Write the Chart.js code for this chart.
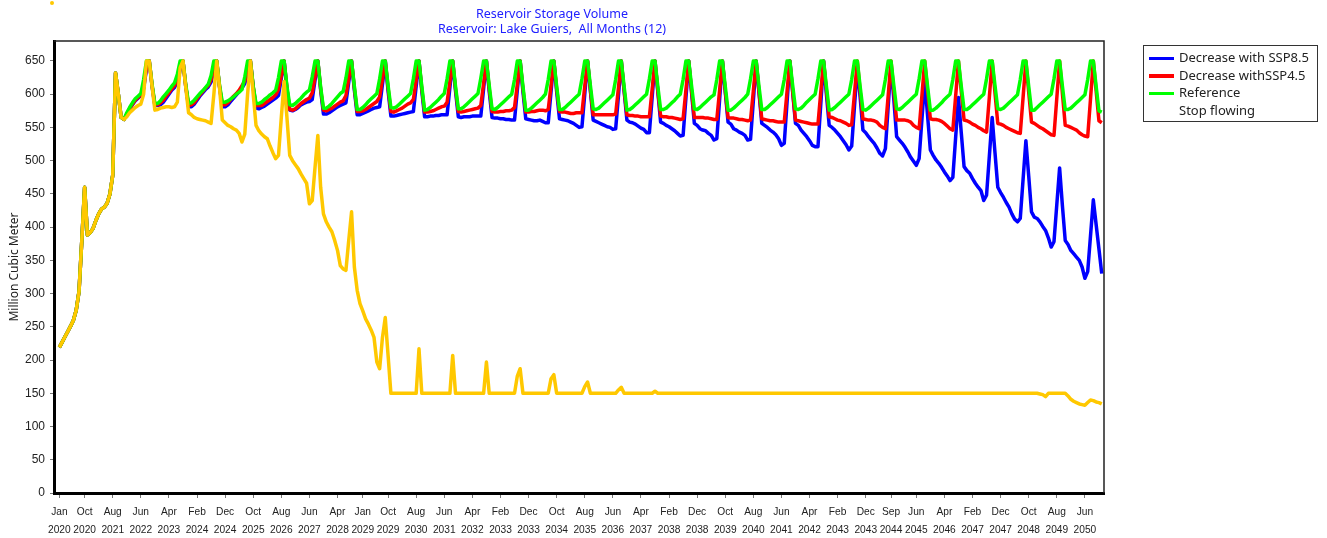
<!DOCTYPE html>
<html>
<head>
<meta charset="utf-8">
<script src="https://cdn.jsdelivr.net/npm/chart.js@4.4.1/dist/chart.umd.min.js"></script>
<style>
  body { margin: 0; background: #fff; }
  #wrap { position: relative; width: 1327px; height: 538px; }
  #legend { position: absolute; left: 1143px; top: 45px; width: 175px; height: 77px; border: 1px solid #333;
    box-sizing: border-box; padding-top: 3px; font: 13px 'Noto Sans', sans-serif; color: #222; }
  #legend div { height: 17.6px; line-height: 17.6px; white-space: nowrap; }
  #legend span { display: inline-block; width: 25px; height: 3.5px; margin: 0 5px 0 5px; vertical-align: middle; }
  #dot { position: absolute; left: 50px; top: 1px; width: 4px; height: 4px; border-radius: 2px; background: #ffc800; }
</style>
</head>
<body>
<div id="wrap">
  <canvas id="myChart" width="1327" height="538"></canvas>
  <div id="legend"></div>
  <div id="dot"></div>
</div>
<script>
// monthly values, Jan 2020 .. Dec 2050 (one row per year)
const ssp85 = [
  219, 227, 235, 243, 251, 260, 275, 303, 380, 460, 388, 392,
  398, 410, 420, 427, 430, 436, 450, 478, 632, 600, 565, 562,
  569, 577, 584, 590, 594, 598, 608, 638, 650, 612, 583, 583,
  584, 588, 594, 600, 606, 610, 618, 636, 650, 611, 581, 581,
  585, 591, 597, 602, 607, 611, 618, 636, 650, 611, 581, 581,
  584, 589, 594, 599, 604, 609, 616, 632, 650, 610, 579, 578,
  580, 582, 585, 588, 591, 594, 598, 624, 650, 608, 576, 575,
  577, 580, 584, 586, 588, 589, 592, 621, 650, 606, 570, 570,
  572, 575, 578, 581, 583, 585, 587, 618, 650, 606, 569, 569,
  571, 573, 575, 577, 579, 580, 581, 615, 650, 605, 567, 567,
  568, 569, 570, 571, 572, 573, 574, 612, 650, 605, 566, 566,
  567, 567, 568, 568, 569, 569, 569, 610, 650, 605, 566, 565,
  566, 566, 566, 567, 567, 567, 567, 608, 650, 604, 565, 564,
  564, 563, 563, 562, 562, 561, 561, 606, 650, 604, 563, 562,
  561, 560, 560, 561, 559, 557, 557, 604, 650, 604, 563, 562,
  561, 560, 558, 556, 553, 550, 551, 600, 650, 605, 561, 559,
  557, 555, 553, 551, 550, 547, 548, 598, 650, 605, 561, 558,
  557, 555, 552, 549, 547, 542, 542, 596, 650, 604, 558, 556,
  553, 551, 548, 545, 541, 537, 538, 594, 650, 603, 556, 553,
  548, 546, 545, 541, 538, 531, 533, 592, 650, 604, 558, 555,
  548, 546, 543, 541, 538, 531, 532, 590, 650, 603, 556, 553,
  550, 546, 543, 539, 533, 523, 526, 588, 650, 603, 556, 553,
  546, 541, 536, 530, 523, 521, 521, 585, 650, 600, 553, 550,
  546, 541, 536, 530, 524, 516, 522, 582, 641, 596, 546, 542,
  536, 531, 526, 519, 511, 507, 518, 582, 645, 592, 536, 531,
  526, 520, 513, 505, 499, 493, 503, 562, 621, 568, 516, 508,
  501, 496, 490, 483, 477, 470, 475, 535, 595, 542, 491, 485,
  481, 473, 466, 460, 455, 440, 448, 507, 565, 512, 460, 452,
  445, 437, 430, 420, 412, 408, 413, 472, 530, 477, 423, 415,
  413, 408, 401, 395, 384, 370, 378, 434, 489, 432, 380, 374,
  365, 360, 355, 350, 340, 323, 333, 387, 441, 404, 367, 330
];

const ssp45 = [
  219, 227, 235, 243, 251, 260, 275, 303, 380, 460, 388, 392,
  398, 410, 420, 427, 430, 436, 450, 478, 632, 600, 565, 562,
  570, 578, 585, 591, 595, 599, 610, 640, 650, 613, 584, 584,
  587, 591, 597, 602, 608, 613, 622, 640, 650, 612, 583, 584,
  587, 593, 599, 604, 609, 613, 622, 640, 650, 612, 584, 584,
  587, 592, 597, 601, 606, 613, 620, 638, 650, 611, 583, 583,
  583, 586, 589, 592, 595, 599, 607, 628, 650, 609, 577, 576,
  578, 582, 586, 589, 592, 594, 602, 626, 650, 608, 576, 575,
  577, 579, 582, 585, 588, 590, 598, 624, 650, 609, 574, 574,
  575, 577, 580, 583, 586, 589, 596, 623, 650, 609, 574, 573,
  575, 577, 579, 582, 585, 587, 592, 621, 650, 608, 573, 573,
  574, 575, 577, 579, 581, 582, 588, 619, 650, 608, 574, 573,
  574, 575, 576, 577, 578, 579, 583, 616, 650, 608, 574, 573,
  573, 574, 574, 575, 575, 576, 580, 615, 650, 608, 573, 573,
  574, 574, 575, 576, 576, 575, 577, 613, 650, 608, 574, 573,
  573, 572, 571, 571, 572, 572, 572, 612, 650, 606, 569, 569,
  569, 569, 569, 569, 569, 569, 570, 610, 650, 606, 569, 568,
  568, 567, 567, 566, 566, 566, 566, 608, 650, 605, 567, 566,
  566, 565, 565, 564, 563, 562, 563, 606, 650, 605, 565, 565,
  565, 565, 564, 564, 563, 562, 562, 606, 650, 605, 565, 564,
  564, 563, 562, 562, 561, 560, 561, 605, 650, 604, 563, 562,
  561, 560, 560, 559, 558, 558, 558, 604, 650, 604, 561, 560,
  559, 558, 557, 556, 555, 555, 555, 603, 650, 606, 566, 565,
  563, 561, 560, 558, 556, 553, 554, 601, 650, 605, 563, 562,
  561, 561, 560, 558, 553, 550, 548, 598, 650, 604, 561, 561,
  561, 561, 560, 558, 553, 550, 548, 598, 650, 605, 563, 562,
  562, 561, 559, 556, 552, 548, 546, 597, 650, 604, 561, 560,
  558, 555, 553, 550, 548, 545, 543, 596, 650, 602, 556, 555,
  553, 550, 548, 546, 544, 542, 541, 595, 650, 603, 558, 556,
  553, 550, 548, 545, 542, 539, 538, 594, 650, 601, 553, 552,
  550, 548, 546, 542, 539, 537, 536, 593, 650, 605, 560, 557
];

const reference = [
  219, 227, 235, 243, 251, 260, 275, 303, 380, 460, 388, 392,
  398, 410, 420, 427, 430, 436, 450, 478, 632, 600, 565, 562,
  572, 580, 587, 593, 597, 601, 622, 650, 650, 615, 586, 586,
  590, 596, 601, 606, 612, 617, 630, 650, 650, 614, 586, 587,
  591, 596, 601, 605, 610, 615, 628, 650, 650, 614, 588, 588,
  590, 593, 596, 600, 603, 607, 626, 650, 650, 612, 586, 586,
  588, 592, 595, 599, 602, 606, 625, 650, 650, 612, 584, 583,
  586, 590, 594, 599, 603, 606, 626, 650, 650, 611, 579, 579,
  582, 586, 591, 596, 601, 604, 624, 650, 650, 612, 577, 577,
  580, 584, 589, 593, 597, 601, 623, 650, 650, 613, 580, 579,
  581, 585, 589, 593, 597, 601, 623, 650, 650, 612, 576, 577,
  580, 584, 588, 592, 597, 601, 623, 650, 650, 612, 578, 578,
  581, 585, 589, 593, 597, 601, 624, 650, 650, 613, 578, 577,
  580, 584, 588, 592, 596, 600, 622, 650, 650, 612, 576, 576,
  579, 583, 587, 591, 595, 600, 622, 650, 650, 612, 577, 577,
  580, 584, 588, 592, 596, 600, 623, 650, 650, 613, 578, 577,
  579, 583, 587, 591, 595, 599, 622, 650, 650, 612, 576, 577,
  580, 584, 588, 592, 596, 600, 623, 650, 650, 612, 577, 577,
  579, 583, 587, 591, 596, 600, 622, 650, 650, 613, 578, 577,
  580, 584, 588, 592, 596, 599, 622, 650, 650, 612, 576, 576,
  579, 583, 587, 591, 595, 600, 623, 650, 650, 612, 577, 577,
  580, 584, 588, 592, 596, 600, 622, 650, 650, 613, 578, 577,
  579, 583, 588, 592, 596, 600, 623, 650, 650, 612, 576, 577,
  580, 584, 588, 592, 596, 600, 622, 650, 650, 612, 577, 576,
  579, 583, 587, 591, 595, 599, 622, 650, 650, 613, 578, 577,
  580, 584, 588, 592, 596, 600, 623, 650, 650, 612, 576, 576,
  579, 583, 587, 592, 596, 600, 622, 650, 650, 612, 577, 577,
  580, 584, 588, 592, 596, 600, 623, 650, 650, 613, 578, 577,
  579, 583, 587, 591, 595, 599, 622, 650, 650, 612, 576, 576,
  580, 584, 588, 592, 596, 600, 623, 650, 650, 612, 577, 577,
  579, 583, 587, 591, 595, 599, 622, 650, 650, 612, 575, 573
];

const stopFlowing = [
  219, 227, 235, 243, 251, 260, 275, 303, 380, 460, 388, 392,
  398, 410, 420, 427, 430, 436, 450, 478, 632, 600, 565, 562,
  566, 572, 576, 580, 583, 585, 600, 650, 650, 612, 576, 577,
  579, 580, 581, 581, 580, 581, 588, 640, 650, 610, 572, 569,
  565, 563, 562, 561, 560, 558, 556, 600, 650, 610, 561, 557,
  553, 551, 548, 546, 541, 528, 540, 600, 650, 600, 553, 545,
  540, 536, 533, 522, 512, 503, 508, 565, 619, 565, 508, 500,
  494, 488, 480, 473, 466, 435, 440, 490, 538, 460, 420, 408,
  400, 393, 380, 365, 342, 337, 335, 380, 423, 340, 305, 285,
  274, 262, 254, 245, 234, 197, 187, 234, 264, 207, 150, 150,
  150, 150, 150, 150, 150, 150, 150, 150, 217, 150, 150, 150,
  150, 150, 150, 150, 150, 150, 150, 150, 207, 150, 150, 150,
  150, 150, 150, 150, 150, 150, 150, 150, 197, 150, 150, 150,
  150, 150, 150, 150, 150, 150, 150, 176, 187, 150, 150, 150,
  150, 150, 150, 150, 150, 150, 150, 172, 178, 150, 150, 150,
  150, 150, 150, 150, 150, 150, 150, 160, 167, 150, 150, 150,
  150, 150, 150, 150, 150, 150, 150, 155, 159, 150, 150, 150,
  150, 150, 150, 150, 150, 150, 150, 150, 153, 150, 150, 150,
  150, 150, 150, 150, 150, 150, 150, 150, 150, 150, 150, 150,
  150, 150, 150, 150, 150, 150, 150, 150, 150, 150, 150, 150,
  150, 150, 150, 150, 150, 150, 150, 150, 150, 150, 150, 150,
  150, 150, 150, 150, 150, 150, 150, 150, 150, 150, 150, 150,
  150, 150, 150, 150, 150, 150, 150, 150, 150, 150, 150, 150,
  150, 150, 150, 150, 150, 150, 150, 150, 150, 150, 150, 150,
  150, 150, 150, 150, 150, 150, 150, 150, 150, 150, 150, 150,
  150, 150, 150, 150, 150, 150, 150, 150, 150, 150, 150, 150,
  150, 150, 150, 150, 150, 150, 150, 150, 150, 150, 150, 150,
  150, 150, 150, 150, 150, 150, 150, 150, 150, 150, 150, 150,
  150, 150, 150, 150, 150, 150, 150, 150, 150, 150, 150, 150,
  150, 149, 148, 145, 150, 150, 150, 150, 150, 150, 150, 146,
  141, 138, 136, 134, 133, 132, 136, 140, 139, 137, 136, 134
];

const seriesNames = ['Decrease with SSP8.5', 'Decrease withSSP4.5', 'Reference', 'Stop flowing'];
const seriesColors = ['#0000ff', '#ff0000', '#00ff00', '#ffc800'];

const monthNames = ['Jan', 'Feb', 'Mar', 'Apr', 'May', 'Jun', 'Jul', 'Aug', 'Sep', 'Oct', 'Nov', 'Dec'];
const months = [];
for (let y = 2020; y <= 2050; y++) {
  monthNames.forEach(m => months.push(m + ' ' + y));
}

const tickLabels = ['Jan 2020', 'Oct 2020', 'Aug 2021', 'Jun 2022', 'Apr 2023', 'Feb 2024', 'Dec 2024',
  'Oct 2025', 'Aug 2026', 'Jun 2027', 'Apr 2028', 'Jan 2029', 'Oct 2029', 'Aug 2030', 'Jun 2031',
  'Apr 2032', 'Feb 2033', 'Dec 2033', 'Oct 2034', 'Aug 2035', 'Jun 2036', 'Apr 2037', 'Feb 2038',
  'Dec 2038', 'Oct 2039', 'Aug 2040', 'Jun 2041', 'Apr 2042', 'Feb 2043', 'Dec 2043', 'Sep 2044',
  'Jun 2045', 'Apr 2046', 'Feb 2047', 'Dec 2047', 'Oct 2048', 'Aug 2049', 'Jun 2050'];
const yTicks = [0, 50, 100, 150, 200, 250, 300, 350, 400, 450, 500, 550, 600, 650];

const allSeries = [ssp85, ssp45, reference, stopFlowing];

// narrow face for the crowded date labels if the machine has one
const probe = document.createElement('canvas').getContext('2d');
probe.font = "12px 'Liberation Sans Narrow', monospace";
const wNarrow = probe.measureText('2020 Jan').width;
probe.font = '12px monospace';
const hasNarrow = Math.abs(wNarrow - probe.measureText('2020 Jan').width) > 0.5;
const xTickFont = hasNarrow
  ? { family: "'Liberation Sans Narrow'", size: 12, lineHeight: 1.45 }
  : { family: "'Liberation Sans', Arial, sans-serif", size: 10.2, lineHeight: 1.7 };

// legend box on the right
const legendBox = document.getElementById('legend');
seriesNames.forEach((name, i) => {
  const row = document.createElement('div');
  const sw = document.createElement('span');
  sw.style.background = i < 3 ? seriesColors[i] : 'transparent';
  row.appendChild(sw);
  row.appendChild(document.createTextNode(name));
  legendBox.appendChild(row);
});

// thin frame on top and right of the plot
const frame = {
  id: 'frame',
  afterDraw(chart) {
    const a = chart.chartArea, c = chart.ctx;
    c.save();
    c.strokeStyle = '#222';
    c.lineWidth = 1.5;
    c.beginPath();
    c.moveTo(a.left, a.top);
    c.lineTo(a.right, a.top);
    c.lineTo(a.right, a.bottom);
    c.stroke();
    c.restore();
  }
};

const ctx = document.getElementById('myChart');
new Chart(ctx, {
  type: 'line',
  data: {
    datasets: allSeries.map((s, i) => ({
      label: seriesNames[i],
      data: s.map((v, k) => ({ x: k, y: v })),
      borderColor: seriesColors[i],
      backgroundColor: seriesColors[i],
      borderWidth: 3.5,
      borderJoinStyle: 'round',
      pointRadius: 0,
      tension: 0,
      order: 4 - i
    }))
  },
  options: {
    responsive: false,
    animation: false,
    devicePixelRatio: 1,
    events: [],
    layout: { padding: { left: 0, right: 223, top: 0, bottom: 0 } },
    plugins: {
      legend: { display: false },
      tooltip: { enabled: false },
      title: {
        display: true,
        text: ['Reservoir Storage Volume', 'Reservoir: Lake Guiers,  All Months (12)'],
        color: '#2020ff',
        font: { family: "'Noto Sans', sans-serif", size: 12.5, weight: 'normal', lineHeight: 1.2 },
        padding: { top: 7, bottom: 4 }
      }
    },
    scales: {
      x: {
        type: 'linear',
        min: -1.9,
        max: 371.8,
        afterFit: s => { s.height = 45; },
        afterBuildTicks: s => { s.ticks = tickLabels.map(t => ({ value: months.indexOf(t) })); },
        grid: { drawOnChartArea: false, drawTicks: true, tickLength: 5, color: '#777' },
        border: { display: true, color: '#000', width: 3 },
        ticks: {
          autoSkip: false,
          maxRotation: 0,
          minRotation: 0,
          padding: 6,
          color: '#222',
          font: xTickFont,
          callback: v => months[v].split(' ')
        }
      },
      y: {
        min: 0,
        max: 680,
        afterFit: s => { s.width = 54; },
        afterBuildTicks: s => { s.ticks = yTicks.map(v => ({ value: v })); },
        grid: { drawOnChartArea: false, drawTicks: true, tickLength: 4, color: '#777' },
        border: { display: true, color: '#000', width: 3 },
        ticks: {
          padding: 5,
          color: '#222',
          font: { family: "'Liberation Sans', Arial, sans-serif", size: 12 }
        },
        title: {
          display: true,
          text: 'Million Cubic Meter',
          color: '#222',
          font: { family: "'Noto Sans', sans-serif", size: 12 },
          padding: { top: 7, bottom: 0 }
        }
      }
    }
  },
  plugins: [frame]
});
</script>
</body>
</html>
